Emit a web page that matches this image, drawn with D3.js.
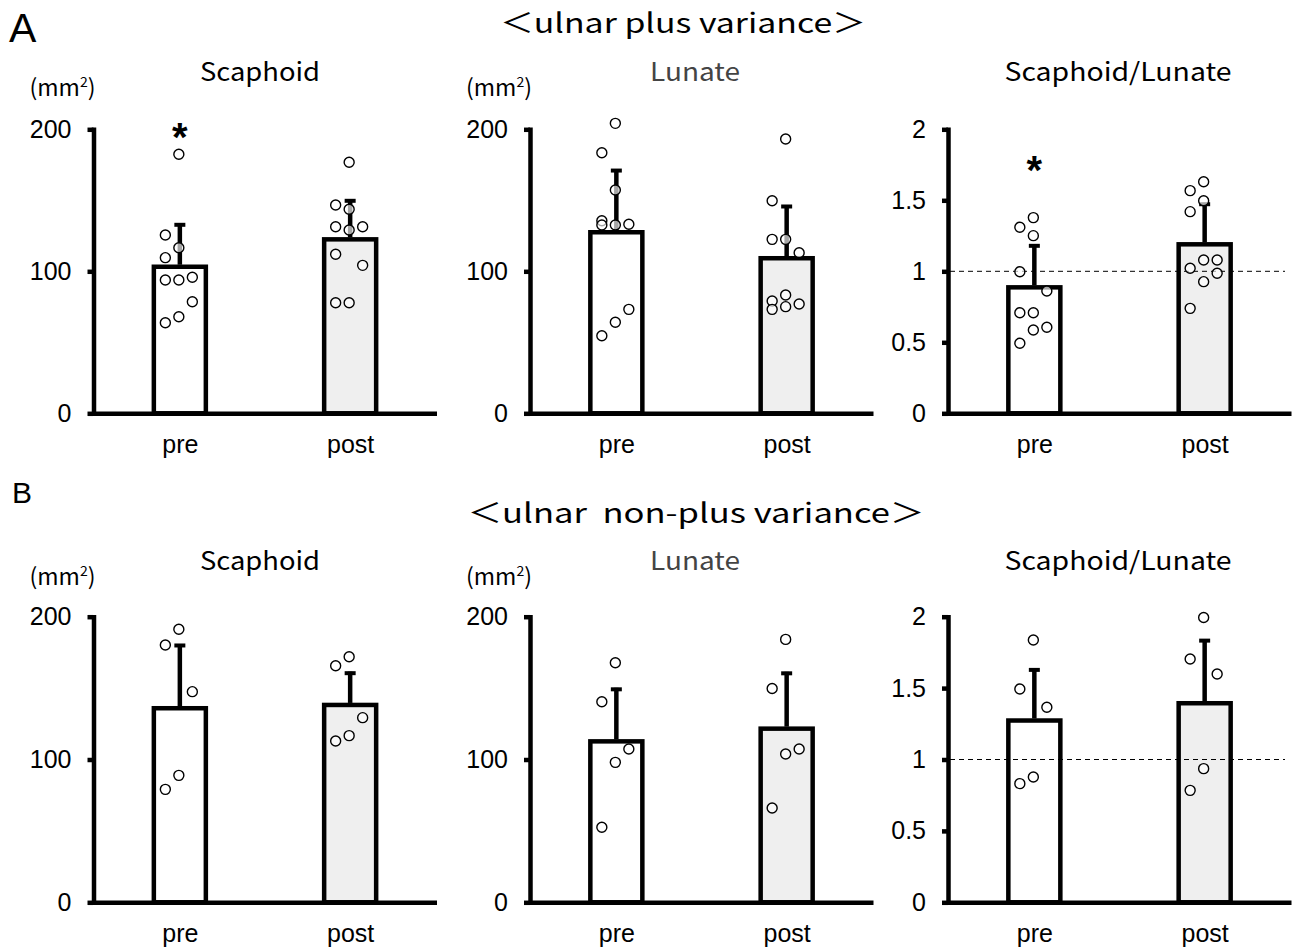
<!DOCTYPE html>
<html><head><meta charset="utf-8">
<script src="https://cdn.jsdelivr.net/npm/d3@7"></script>
<style>body{margin:0;background:#fff}</style>
</head><body><svg id="c" width="1293" height="949"></svg>
<script>
// ---------- data ----------
const groups = ["pre", "post"];
const panelTitles = ["Scaphoid", "Lunate", "Scaphoid/Lunate"];
const rowLabels = ["A", "B"];
const rowTitles = ["＜ulnar plus variance＞", "＜ulnar  non-plus variance＞"];
const areaTicks = [0, 100, 200];
const ratioTicks = [0, 0.5, 1, 1.5, 2];
const ratioReference = 1;

// A: ulnar plus variance  (points: [value, column -1/0/1])
const plusScaphoidMean = [103.2, 122.5];
const plusScaphoidSD = [30.6, 28.2];
const plusScaphoidPre = [[182.4,0],[125.6,-1],[116.6,0],[109.6,-1],[93.9,-1],[93.9,0],[95.8,1],[78.6,1],[68.0,0],[63.8,-1]];
const plusScaphoidPost = [[176.8,0],[146.7,-1],[143.7,0],[131.4,-1],[129.1,0],[131.4,1],[112.0,-1],[104.2,1],[77.9,-1],[77.9,0]];

const plusLunateMean = [127.5, 109.2];
const plusLunateSD = [44.5, 37.5];
const plusLunatePre = [[204.2,0],[183.5,-1],[157.3,0],[135.6,-1],[132.6,-1],[132.6,0],[133.1,1],[73.2,1],[64.1,0],[54.6,-1]];
const plusLunatePost = [[193.2,0],[149.7,-1],[122.5,-1],[122.5,0],[113.1,1],[79.1,-1],[83.3,0],[73.2,-1],[75.1,0],[77.0,1]];

const plusRatioMean = [0.887, 1.19];
const plusRatioSD = [0.303, 0.293];
const plusRatioPre = [[1.378,0],[1.31,-1],[1.251,0],[0.997,-1],[0.861,1],[0.708,-1],[0.708,0],[0.606,1],[0.587,0],[0.493,-1]];
const plusRatioPost = [[1.631,0],[1.568,-1],[1.497,0],[1.42,-1],[1.08,0],[1.08,1],[1.021,-1],[0.986,1],[0.927,0],[0.739,-1]];

// B: ulnar non-plus variance
const nonScaphoidMean = [135.9, 138.2];
const nonScaphoidSD = [45.0, 23.3];
const nonScaphoidPre = [[191.2,0],[180.2,-1],[147.5,1],[88.9,0],[79.1,-1]];
const nonScaphoidPost = [[172.0,0],[165.7,-1],[129.3,1],[116.7,0],[113.0,-1]];

const nonLunateMean = [112.7, 121.6];
const nonLunateSD = [37.5, 39.8];
const nonLunatePre = [[167.7,0],[140.4,-1],[107.4,1],[98.0,0],[52.6,-1]];
const nonLunatePost = [[184.1,0],[149.7,-1],[107.4,1],[103.9,0],[66.0,-1]];

const nonRatioMean = [1.273, 1.394];
const nonRatioSD = [0.365, 0.449];
const nonRatioPre = [[1.837,0],[1.494,-1],[1.366,1],[0.877,0],[0.831,-1]];
const nonRatioPost = [[1.994,0],[1.704,-1],[1.599,1],[0.936,0],[0.784,-1]];

// significance markers (group, value position)
const plusScaphoidSig = ["pre", 200];
const plusRatioSig = ["pre", 1.77];

// ---------- layout ----------
const rowBase = [413.3, 902.3];
const rowTop = [129.3, 616.7];
const colAxisX = [93.5, 530, 948];
const panelW = 343;
const barW = 52;
const jitter = 13.5;

const panels = [
  {row:0,col:0,ticks:areaTicks,unit:true,mean:plusScaphoidMean,sd:plusScaphoidSD,pts:[plusScaphoidPre,plusScaphoidPost],sig:plusScaphoidSig},
  {row:0,col:1,ticks:areaTicks,unit:true,mean:plusLunateMean,sd:plusLunateSD,pts:[plusLunatePre,plusLunatePost]},
  {row:0,col:2,ticks:ratioTicks,ref:ratioReference,mean:plusRatioMean,sd:plusRatioSD,pts:[plusRatioPre,plusRatioPost],sig:plusRatioSig},
  {row:1,col:0,ticks:areaTicks,unit:true,mean:nonScaphoidMean,sd:nonScaphoidSD,pts:[nonScaphoidPre,nonScaphoidPost]},
  {row:1,col:1,ticks:areaTicks,unit:true,mean:nonLunateMean,sd:nonLunateSD,pts:[nonLunatePre,nonLunatePost]},
  {row:1,col:2,ticks:ratioTicks,ref:ratioReference,mean:nonRatioMean,sd:nonRatioSD,pts:[nonRatioPre,nonRatioPost]}
];

const svg = d3.select("#c");
const NUM = "'Liberation Sans', Arial, sans-serif";
const JP = "'Noto Sans CJK JP', 'Noto Sans', sans-serif";

// row labels and titles
const titleCenters = [683, 696];
const titleBase = [33, 523];
const titleWidths = [366, 457];
rowLabels.forEach((l, i) => {
  svg.append("text").attr("x", i ? 12 : 9).attr("y", i ? 503 : 42)
    .attr("font-family", NUM).attr("font-size", i ? 30 : 41).text(l);
  svg.append("text").attr("x", titleCenters[i]).attr("y", titleBase[i])
    .attr("text-anchor", "middle").attr("font-family", JP).attr("font-size", 27)
    .attr("textLength", titleWidths[i]).attr("lengthAdjust", "spacingAndGlyphs")
    .style("white-space", "pre").text(rowTitles[i]);
});

const titleCenterOff = [166.5, 165, 170];
const subTitleWidths = [120, 90, 227];

panels.forEach(p => {
  const x0 = colAxisX[p.col];
  const yB = rowBase[p.row], yT = rowTop[p.row];
  const ext = d3.extent(p.ticks);
  const y = d3.scaleLinear().domain(ext).range([yB, yT]);
  const x = d3.scalePoint().domain(groups).range([x0, x0 + panelW]).padding(0.507);
  const g = svg.append("g");

  // subplot title
  g.append("text").attr("x", x0 + titleCenterOff[p.col]).attr("y", yB - 332)
    .attr("text-anchor", "middle").attr("font-family", JP).attr("font-size", 25)
    .attr("textLength", subTitleWidths[p.col]).attr("lengthAdjust", "spacingAndGlyphs")
    .attr("fill", p.col === 1 ? "#444" : "#000").text(panelTitles[p.col]);
  if (p.unit) {
    const u = g.append("text").attr("x", x0 - 64).attr("y", yB - 317)
      .attr("font-family", JP).attr("font-size", 23);
    u.append("tspan").text("(mm");
    u.append("tspan").attr("font-size", 14).attr("dy", -9).text("2");
    u.append("tspan").attr("dy", 9).text(")");
  }

  // bars
  g.selectAll("rect.bar").data(groups).join("rect").attr("class", "bar")
    .attr("x", d => x(d) - barW / 2).attr("width", barW)
    .attr("y", (d, i) => y(p.mean[i])).attr("height", (d, i) => y(0) - y(p.mean[i]))
    .attr("fill", (d, i) => i ? "#efefef" : "#fff")
    .attr("stroke", "#000").attr("stroke-width", 4.5);

  // reference line
  if (p.ref !== undefined) {
    g.append("line").attr("x1", x0 + 2).attr("x2", x0 + 337)
      .attr("y1", y(p.ref)).attr("y2", y(p.ref))
      .attr("stroke", "#000").attr("stroke-width", 1).attr("stroke-dasharray", "5,4");
  }

  // error bars
  groups.forEach((gname, i) => {
    const cx = x(gname);
    g.append("line").attr("x1", cx).attr("x2", cx)
      .attr("y1", y(p.mean[i]) - 2).attr("y2", y(p.mean[i] + p.sd[i]))
      .attr("stroke", "#000").attr("stroke-width", 4.5);
    g.append("line").attr("x1", cx - 5.5).attr("x2", cx + 5.5)
      .attr("y1", y(p.mean[i] + p.sd[i]) + 1.5).attr("y2", y(p.mean[i] + p.sd[i]) + 1.5)
      .attr("stroke", "#000").attr("stroke-width", 4);
  });

  // axes
  const ya = d3.axisLeft(y).tickValues(p.ticks).tickSizeInner(6).tickSizeOuter(0).tickPadding(16)
    .tickFormat(d => d3.format("~g")(d));
  const yg = g.append("g").attr("transform", `translate(${x0},0)`).call(ya);
  yg.select(".domain").attr("stroke-width", 4.5).attr("stroke-linecap", "square");
  yg.selectAll(".tick line").attr("stroke-width", 4.5);
  yg.selectAll(".tick text").attr("font-family", NUM).attr("font-size", 25).attr("fill", "#000");

  const xa = d3.axisBottom(x).tickSize(0).tickSizeOuter(0).tickPadding(22);
  const xg = g.append("g").attr("transform", `translate(0,${yB})`).call(xa);
  xg.select(".domain").attr("stroke-width", 4.5);
  xg.selectAll(".tick text").attr("font-family", NUM).attr("font-size", 25).attr("fill", "#000");

  // points
  groups.forEach((gname, i) => {
    g.selectAll(null).data(p.pts[i]).join("circle")
      .attr("cx", d => x(gname) - 1 + d[1] * jitter)
      .attr("cy", d => y(d[0])).attr("r", 5)
      .attr("fill", "#fff").attr("fill-opacity", 0.65)
      .attr("stroke", "#000").attr("stroke-width", 1.4);
  });

  // significance
  if (p.sig) {
    g.append("text").attr("x", x(p.sig[0])).attr("y", y(p.sig[1]) + 22)
      .attr("text-anchor", "middle").attr("font-family", NUM).attr("font-weight", "bold")
      .attr("font-size", 40).text("*");
  }
});
</script></body></html>
